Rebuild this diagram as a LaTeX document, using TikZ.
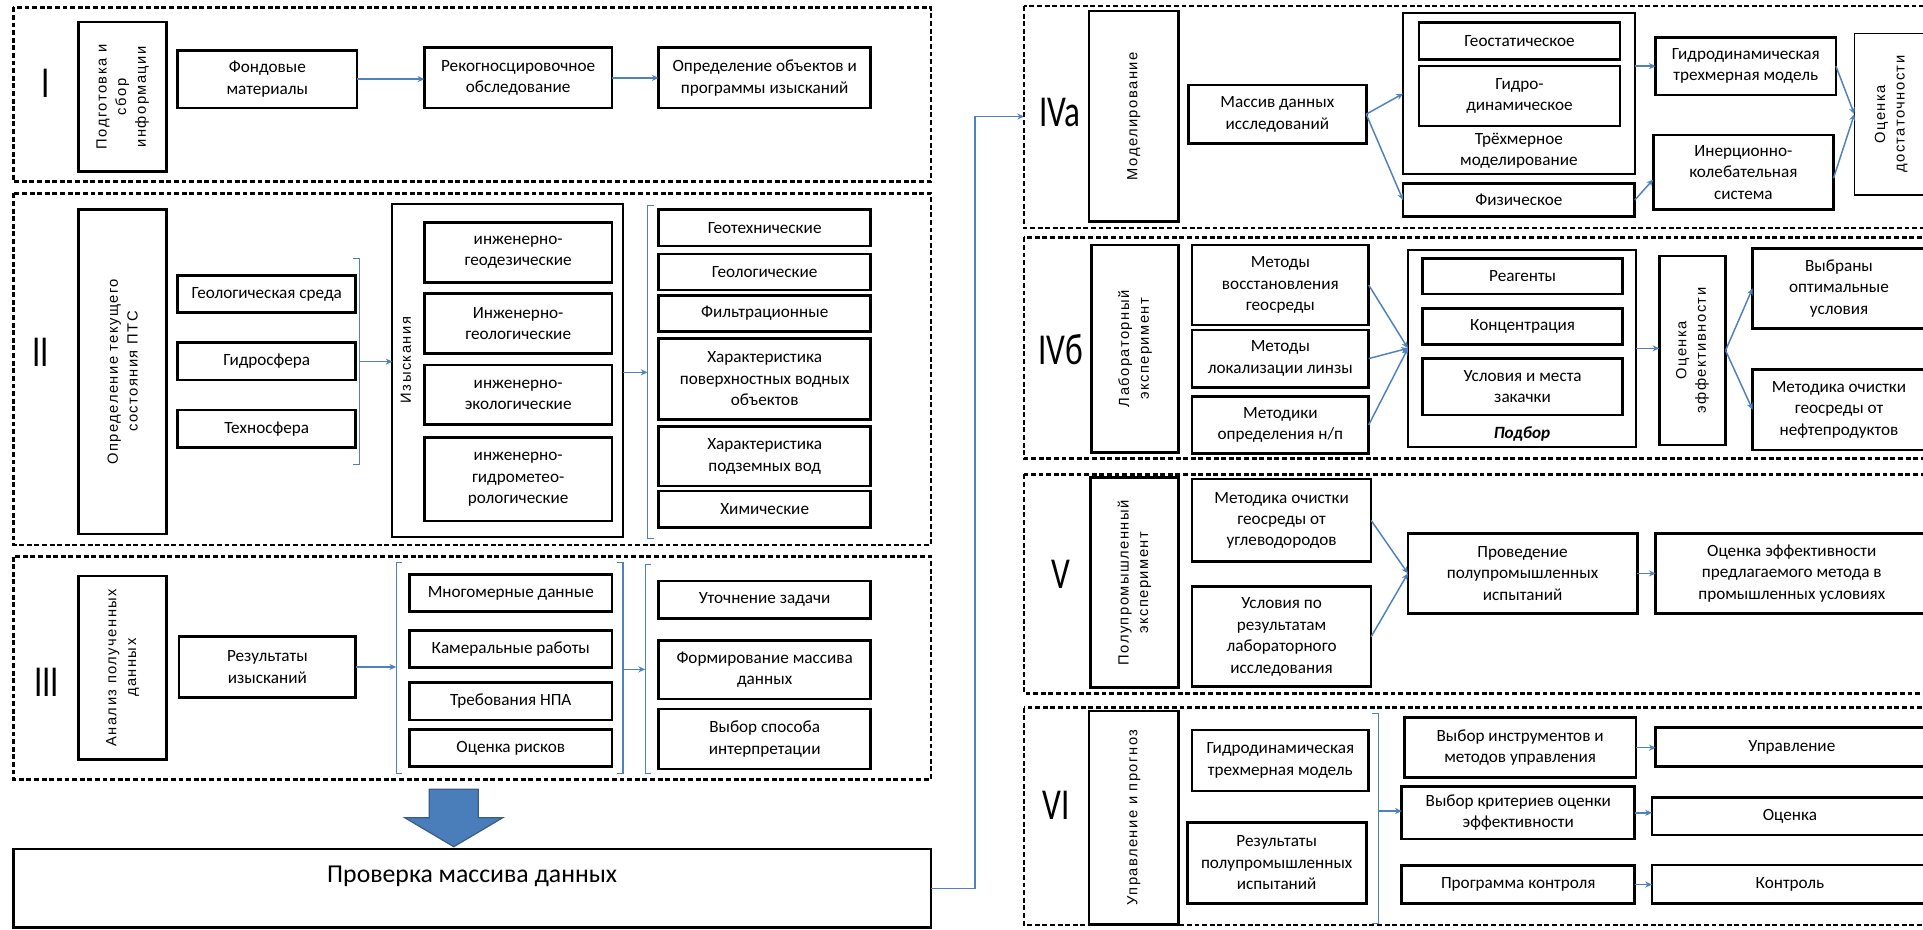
\documentclass[tikz,border=0pt]{standalone}
\usepackage{fontspec}
\setmainfont{Carlito}
\newfontfamily\rotf[LetterSpace=10]{Liberation Sans}
\newfontfamily\romf[FakeStretch=0.75]{Carlito}
\usetikzlibrary{arrows.meta,calc}
\definecolor{lnblue}{RGB}{79,129,189}
\definecolor{arrfill}{RGB}{74,126,187}
\definecolor{arrdraw}{RGB}{56,93,138}
\tikzset{
 box/.style={draw=black,line width=2.2pt,align=center,inner sep=2pt,outer sep=0pt,font=\fontsize{14}{17.5}\selectfont},
 thinframe/.style={line width=1.6pt},
 vbox/.style={draw=black,line width=2.2pt,rotate=90,align=center,inner sep=2pt,outer sep=0pt,font=\rotf\fontsize{12}{16}\selectfont},
 rlab/.style={rotate=90,align=center,inner sep=0pt,font=\rotf\fontsize{12}{16}\selectfont},
 txt/.style={align=center,inner sep=0pt,font=\fontsize{14}{17.5}\selectfont},
 roman/.style={inner sep=0pt,font=\romf\fontsize{36}{36}\selectfont},
 grp/.style={draw=black,line width=2.2pt,dash pattern=on 4pt off 2.2pt},
 conn/.style={draw=lnblue,line width=1.2pt,-{Stealth[length=5.5pt,width=5pt]}},
 brk/.style={draw=lnblue,line width=0.9pt},
 bigarr/.style={fill=arrfill,draw=arrdraw,line width=1pt},
}
\newcommand\bx[7][]{%
 \pgfmathsetmacro\bxw{#5-#3}%
 \pgfmathsetmacro\bxh{#6-#4}%
 \node[box,minimum width=\bxw pt,minimum height=\bxh pt,#1] (#2) at ({(#3+#5)/2},{(#4+#6)/2}) {#7};}
\newcommand\vb[7][]{%
 \pgfmathsetmacro\bxw{#5-#3}%
 \pgfmathsetmacro\bxh{#6-#4}%
 \node[vbox,minimum width=\bxh pt,minimum height=\bxw pt,#1] (#2) at ({(#3+#5)/2},{(#4+#6)/2}) {#7};}
\begin{document}
\begin{tikzpicture}[x=1pt,y=-1pt]
\useasboundingbox (0,0) rectangle (1568,758);
\clip (0,0) rectangle (1568,758);
% ---------- I
\draw[grp] (11,6) rectangle (759,148);
\node[roman] (nI) at (37,68) {I};
\vb{v1}{64}{18}{136}{140}{Подготовка и\\сбор\\информации}
\bx{fond}{145}{41}{291}{88}{Фондовые\\материалы}
\bx{rek}{346}{39}{499}{88}{Рекогносцировочное\\обследование}
\bx{opr}{537}{39}{710}{88}{Определение объектов и\\программы изысканий}
\draw[conn] (fond.east) -- (fond.east -| rek.west);
\draw[conn] (rek.east) -- (rek.east -| opr.west);
% ---------- II
\draw[grp] (11,157.7) rectangle (759,444.4);
\node[roman] (nII) at (33,287.5) {II};
\vb{v2}{64}{170.7}{136}{435.4}{Определение текущего\\состояния ПТС}
\bx{geo}{145}{224.8}{290}{255}{Геологическая среда}
\bx{gidr}{145}{279.4}{290}{309.9}{Гидросфера}
\bx{tech}{145}{334.3}{290}{364.8}{Техносфера}
\draw[brk] (288,210.7) -- (293,210.7) -- (293,378.4) -- (288,378.4);
\coordinate (bII) at (293,294.9);
\bx[thinframe]{izy}{320}{166.4}{508}{438.2}{}
\node[rlab] (izyT) at (331,293.6) {Изыскания};
\bx{i1}{346}{181.3}{499}{230.3}{инженерно-\\геодезические}
\bx{i2}{346}{239.2}{499}{288.1}{Инженерно-\\геологические}
\bx{i3}{346}{297.6}{499}{346}{инженерно-\\экологические}
\bx{i4}{346}{356.6}{499}{424.9}{инженерно-\\гидрометео-\\рологические}
\draw[brk] (533,167.2) -- (528,167.2) -- (528,439) -- (533,439);
\coordinate (bII2) at (528,303.6);
\draw[conn] (bII) -- (bII -| izy.west);
\draw[conn] (izy.east |- bII2) -- (bII2);
\bx{r1}{537}{170.7}{710}{200.6}{Геотехнические}
\bx{r2}{537}{207.1}{710}{236.5}{Геологические}
\bx{r3}{537}{240.8}{710}{270.5}{Фильтрационные}
\bx{r4}{537}{275.9}{710}{342}{Характеристика\\поверхностных водных\\объектов}
\bx{r5}{537}{348}{710}{396.3}{Характеристика\\подземных вод}
\bx{r6}{537}{400.4}{710}{430.3}{Химические}
% ---------- III
\draw[grp] (11,453.9) rectangle (759,635.5);
\node[roman] (nIII) at (38,556) {III};
\vb{v3}{64}{469.7}{136}{619.2}{Анализ полученных\\данных}
\bx{res}{146}{519.1}{290}{568.6}{Результаты\\изысканий}
\draw[brk] (328,458.5) -- (323,458.5) -- (323,630.6) -- (328,630.6);
\draw[brk] (503,458.5) -- (508,458.5) -- (508,630.6) -- (503,630.6);
\draw[brk] (531,460) -- (526,460) -- (526,630.6) -- (531,630.6);
\coordinate (bIIIa) at (323,545);
\coordinate (bIIIb) at (508,545.8);
\coordinate (bIIIc) at (526,545.8);
\bx{m1}{334}{468.3}{499}{498.8}{Многомерные данные}
\bx{m2}{334}{514.3}{499}{544.4}{Камеральные работы}
\bx{m3}{334}{556.7}{499}{587.1}{Требования НПА}
\bx{m4}{334}{594.7}{499}{625.1}{Оценка рисков}
\bx{u1}{537}{473.8}{710}{504.2}{Уточнение задачи}
\bx{u2}{537}{522.4}{710}{570}{Формирование массива\\данных}
\bx{u3}{537}{578.1}{710}{627}{Выбор способа\\интерпретации}
\draw[conn] (res.east) -- (res.east -| bIIIa);
\draw[conn] (bIIIb) -- (bIIIc);
% ---------- big arrow and check box
\draw[bigarr] (350,643.6) -- (390,643.6) -- (390,666.7) -- (410,666.7) -- (370,690.4) -- (330,666.7) -- (350,666.7) -- cycle;
\bx[font=\fontsize{21}{26}\selectfont]{prov}{11}{692.3}{759}{756.4}{Проверка массива данных\\[-10pt]\strut}
\coordinate (ivaIn) at (835,95);
\draw[conn] (prov.east) -- ++(36,0) |- (ivaIn);
% ---------- IVa
\draw[grp] (835,4.9) rectangle (1585,186);
\node[roman] (nIVa) at (864,92) {IVa};
\vb{v4}{888}{9}{961}{180.7}{Моделирование}
\bx{mas}{969}{69.3}{1114}{116.9}{Массив данных\\исследований}
\bx[thinframe]{tri}{1144}{10.9}{1333}{141.9}{}
\bx{gst}{1157}{18.5}{1321}{48.4}{Геостатическое}
\bx{gdn}{1157}{53.8}{1321}{102.7}{Гидро-\\динамическое}
\node[txt] (triT) at (1238.5,123) {Трёхмерное\\моделирование};
\bx{fiz}{1144}{149.5}{1333}{176.7}{Физическое}
\bx{gdm}{1350}{30.4}{1497}{77.5}{Гидродинамическая\\трехмерная модель}
\bx{ink}{1348}{110}{1495}{170.7}{Инерционно-\\колебательная\\система}
\vb[line width=1.2pt]{ocd}{1512}{27.2}{1572}{159}{Оценка\\достаточности}
\draw[conn] (mas.east) -- (tri.west);
\draw[conn] (mas.east) -- (fiz.west);
\draw[conn] (tri.east |- gdm.west) -- (gdm.west);
\draw[conn] (fiz.east) -- ([yshift=-6pt]ink.west);
\draw[conn] (gdm.east) -- (ocd.north);
\draw[conn] ([yshift=-5pt]ink.east) -- (ocd.north);
% ---------- IVb
\draw[grp] (835,193.5) rectangle (1585,373.7);
\node[roman] (nIVb) at (865,285) {IVб};
\vb{v5}{890}{199.7}{961}{369.1}{Лабораторный\\эксперимент}
\bx{mt1}{972}{199.7}{1116}{265}{Методы\\восстановления\\геосреды}
\bx{mt2}{972}{269}{1116}{315.8}{Методы\\локализации линзы}
\bx{mt3}{972}{323.4}{1116}{369.6}{Методики\\определения н/п}
\bx[thinframe]{pod}{1148}{203.8}{1334}{364.2}{}
\node[txt,font=\fontsize{14}{17.5}\selectfont\bfseries\itshape] (podT) at (1241,353.8) {Подбор};
\bx{rg}{1160}{210.6}{1323}{239.7}{Реагенты}
\bx{kc}{1160}{251.4}{1323}{280.7}{Концентрация}
\bx{uz}{1160}{292.1}{1323}{338.3}{Условия и места\\закачки}
\vb{oef}{1353}{208.7}{1407}{362.8}{Оценка\\эффективности}
\bx{vyb}{1429}{202.5}{1570}{267.7}{Выбраны\\оптимальные\\условия}
\bx{mok}{1429}{301.1}{1570}{366.9}{Методика очистки\\геосреды от\\нефтепродуктов}
\draw[conn] (mt1.east) -- (pod.west);
\draw[conn] (mt2.east) -- (pod.west);
\draw[conn] (mt3.east) -- (pod.west);
\draw[conn] (pod.east) -- (pod.east -| oef.north);
\draw[conn] (oef.south) -- (vyb.west);
\draw[conn] (oef.south) -- (mok.west);
% ---------- V
\draw[grp] (835,386.8) rectangle (1585,565.4);
\node[roman] (nV) at (865,468) {V};
\vb{v6}{889}{389.5}{961}{560.8}{Полупромышленный\\эксперимент}
\bx{mo}{972}{390.6}{1118}{458}{Методика очистки\\геосреды от\\углеводородов}
\bx{ul}{972}{478.4}{1118}{560}{Условия по\\результатам\\лабораторного\\исследования}
\bx{pr}{1148}{434.9}{1335}{500.2}{Проведение\\полупромышленных\\испытаний}
\bx{oe}{1350}{434.9}{1572}{500.2}{Оценка эффективности\\предлагаемого метода в\\промышленных условиях}
\draw[conn] (mo.east) -- (pr.west);
\draw[conn] (ul.east) -- (pr.west);
\draw[conn] (pr.east) -- (pr.east -| oe.west);
% ---------- VI
\draw[grp] (835,577) rectangle (1585,754.2);
\node[roman] (nVI) at (861.5,656.6) {VI};
\vb{v7}{888}{579.7}{961}{753.7}{Управление и прогноз}
\bx{gdm2}{972}{595.2}{1116}{645}{Гидродинамическая\\трехмерная модель}
\bx{rez}{968}{670.5}{1114}{736.6}{Результаты\\полупромышленных\\испытаний}
\draw[brk] (1119,581.6) -- (1124,581.6) -- (1124,752.9) -- (1119,752.9);
\coordinate (bVI) at (1124,661.3);
\bx{vi}{1145}{585.2}{1334}{634.1}{Выбор инструментов и\\методов управления}
\bx{vk}{1143}{641.4}{1333}{684.1}{Выбор критериев оценки\\эффективности}
\bx{pk}{1143}{705.9}{1333}{736.6}{Программа контроля}
\bx{up}{1350}{593.3}{1572}{625.1}{Управление}
\bx{oc}{1347}{650.4}{1572}{680.9}{Оценка}
\bx{kt}{1347}{705.3}{1572}{736.6}{Контроль}
\draw[conn] (bVI) -- (bVI -| vk.west);
\draw[conn] (vi.east) -- (vi.east -| up.west);
\draw[conn] (vk.east) -- (vk.east -| oc.west);
\draw[conn] (pk.east) -- (pk.east -| kt.west);
\end{tikzpicture}
\end{document}
